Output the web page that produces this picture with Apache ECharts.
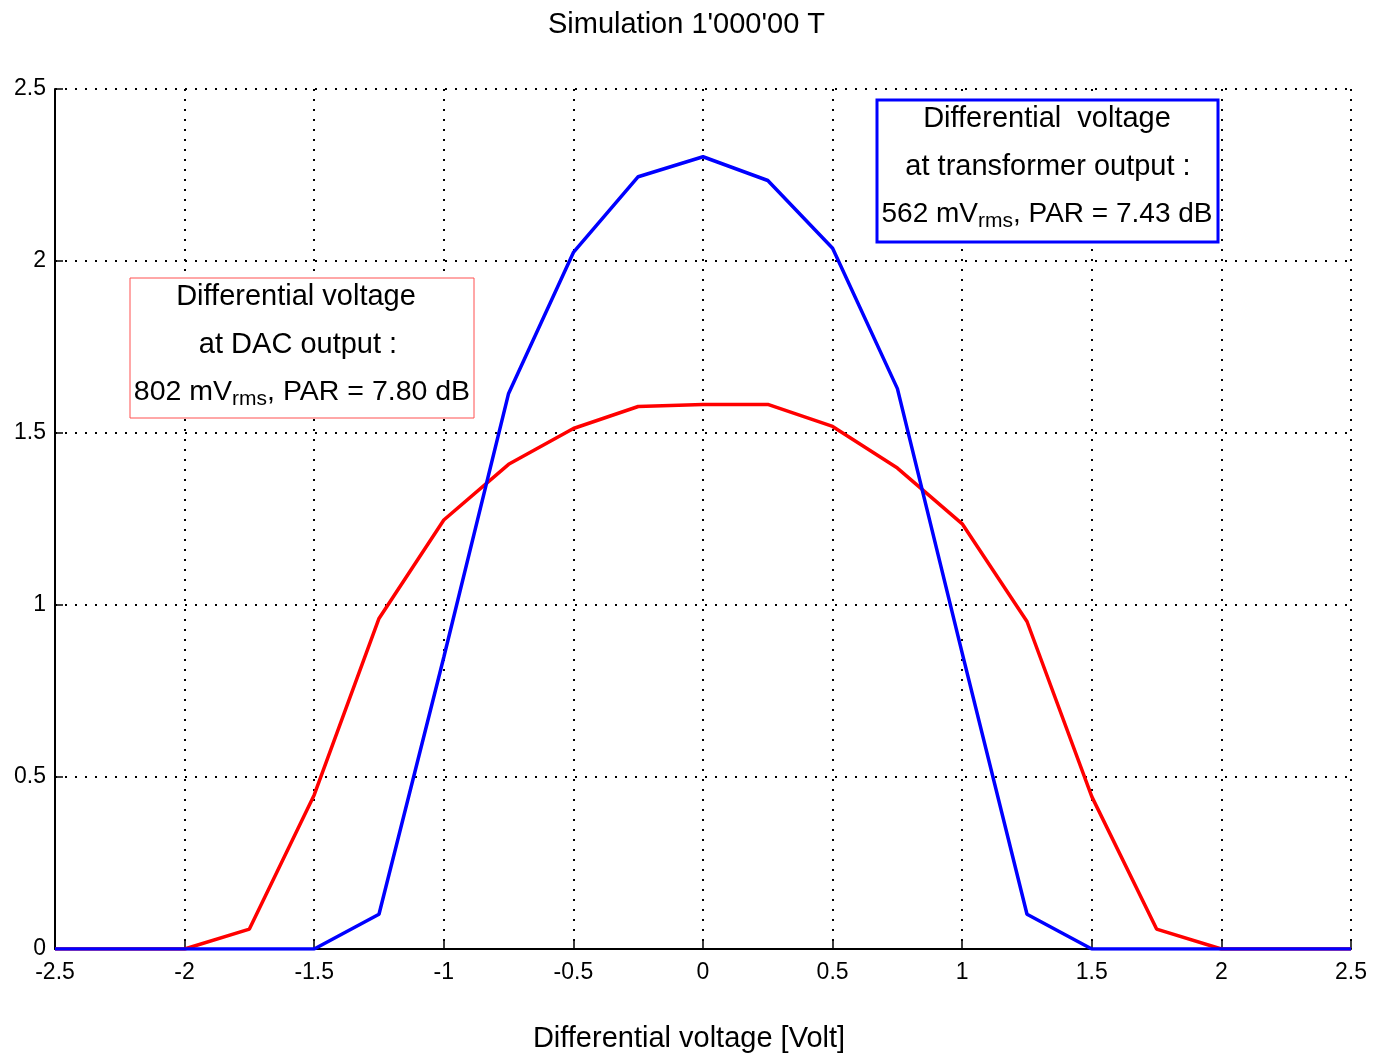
<!DOCTYPE html>
<html>
<head>
<meta charset="utf-8">
<script src="https://cdn.jsdelivr.net/npm/echarts@6/dist/echarts.min.js"></script>
<style>html,body{margin:0;padding:0;background:#fff}#c{width:1373px;height:1058px}</style>
</head>
<body>
<div id="c"></div>
<script>
var xValues = [-2.5,-2.25,-2,-1.75,-1.5,-1.25,-1,-0.75,-0.5,-0.25,0,0.25,0.5,0.75,1,1.25,1.5,1.75,2,2.25,2.5];
var dacValues = [0,0,0,0.058,0.448,0.961,1.247,1.409,1.513,1.577,1.583,1.583,1.519,1.398,1.236,0.952,0.443,0.058,0,0,0];
var transformerValues = [0,0,0,0,0,0.101,0.848,1.615,2.025,2.245,2.303,2.234,2.037,1.629,0.86,0.101,0,0,0,0,0];
var titleText = "Simulation 1'000'00 T";
var xAxisName = "Differential voltage [Volt]";
var font = "Liberation Sans, Arial, sans-serif";

function pairs(xs, ys){ return xs.map(function(x,i){ return [x, ys[i]]; }); }

var chart = echarts.init(document.getElementById('c'));
var gridLine = {show:true, lineStyle:{color:'#000', type:[2,8], width:2}};
chart.setOption({
  animation:false,
  backgroundColor:'#fff',
  title:{text:titleText, left:'center', top:5, textStyle:{fontFamily:font, fontSize:29, fontWeight:'normal', color:'#000'}},
  grid:{left:55, right:22, top:89, bottom:105},
  xAxis:{type:'value', min:-2.5, max:2.5, interval:0.5,
    name:xAxisName, nameLocation:'middle', nameGap:75,
    nameTextStyle:{fontFamily:font, fontSize:29, color:'#000', padding:[0,28,0,0]},
    axisLine:{show:true, onZero:false, lineStyle:{color:'#000', width:2}},
    axisTick:{show:true, inside:true, length:8, lineStyle:{color:'#000', width:1.5}},
    axisLabel:{fontFamily:font, fontSize:23, color:'#000', margin:12},
    splitLine:gridLine},
  yAxis:{type:'value', min:0, max:2.5, interval:0.5,
    axisLine:{show:true, onZero:false, lineStyle:{color:'#000', width:2}},
    axisTick:{show:true, inside:true, length:8, lineStyle:{color:'#000', width:1.5}},
    axisLabel:{fontFamily:font, fontSize:23, color:'#000', margin:9},
    splitLine:gridLine},
  series:[
    {type:'line', data:pairs(xValues, dacValues), showSymbol:false, lineStyle:{color:'#ff0000', width:3.5}, itemStyle:{color:'#ff0000'}},
    {type:'line', data:pairs(xValues, transformerValues), showSymbol:false, lineStyle:{color:'#0000ff', width:3.5}, itemStyle:{color:'#0000ff'}}
  ],
  graphic:[
    {type:'rect', shape:{x:130, y:278, width:344, height:140}, style:{fill:'#fff', stroke:'#ff5050', lineWidth:1}, z:10},
    {type:'text', x:296, y:297, z:11, style:{text:'Differential voltage', font:'29px '+font, fill:'#000', textAlign:'center', textVerticalAlign:'middle'}},
    {type:'text', x:298, y:345, z:11, style:{text:'at DAC output :', font:'29px '+font, fill:'#000', textAlign:'center', textVerticalAlign:'middle'}},
    {type:'text', x:302, y:392, z:11, style:{text:'{n|802 mV}{s|rms}{n|, PAR = 7.80 dB}', textAlign:'center', textVerticalAlign:'middle',
      rich:{n:{fontFamily:font, fontSize:28.5, color:'#000'}, s:{fontFamily:font, fontSize:21, color:'#000', padding:[14,0,0,0]}}}},
    {type:'rect', shape:{x:877, y:100, width:341, height:142}, style:{fill:'#fff', stroke:'#0000ff', lineWidth:3}, z:10},
    {type:'text', x:1047, y:119, z:11, style:{text:'Differential  voltage', font:'29px '+font, fill:'#000', textAlign:'center', textVerticalAlign:'middle'}},
    {type:'text', x:1048, y:167, z:11, style:{text:'at transformer output :', font:'29px '+font, fill:'#000', textAlign:'center', textVerticalAlign:'middle'}},
    {type:'text', x:1047, y:214, z:11, style:{text:'{n|562 mV}{s|rms}{n|, PAR = 7.43 dB}', textAlign:'center', textVerticalAlign:'middle',
      rich:{n:{fontFamily:font, fontSize:28, color:'#000'}, s:{fontFamily:font, fontSize:21, color:'#000', padding:[14,0,0,0]}}}}
  ]
});
</script>
</body>
</html>
